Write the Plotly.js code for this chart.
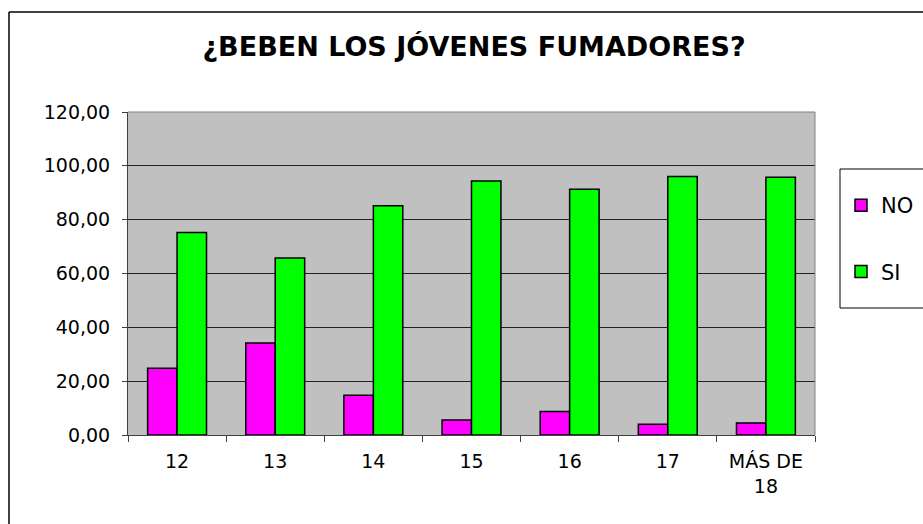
<!DOCTYPE html>
<html>
<head>
<meta charset="utf-8">
<script src="https://cdn.plot.ly/plotly-3.0.1.min.js"></script>
<style>
  body { margin: 0; background: #ffffff; }
  #grafica { width: 923px; height: 524px; }
</style>
</head>
<body>
<div id="grafica"></div>
<script>
// edades (categorias del eje x)
const edades = ["12", "13", "14", "15", "16", "17", "MÁS DE<br>18"];

// porcentajes
const valoresNo = [24.8, 34.2, 14.8, 5.6, 8.7, 4.0, 4.5];
const valoresSi = [75.2, 65.8, 85.2, 94.4, 91.3, 96.0, 95.8];

const fuente = "DejaVu Sans, Liberation Sans, Arial, sans-serif";

// area del grafico en pixeles (para pasar a coordenadas paper)
const izq = 128, der = 815, arriba = 112, abajo = 435;
const px = (x) => (x - izq) / (der - izq);
const py = (y) => (abajo - y) / (abajo - arriba);

let datos = [
  {
    x: edades,
    y: valoresNo,
    name: "NO",
    type: "bar",
    legendgroup: "no",
    marker: { color: "#ff00ff", line: { color: "#000000", width: 1.5 } }
  },
  {
    x: edades,
    y: valoresSi,
    name: "SI",
    type: "bar",
    legendgroup: "si",
    marker: { color: "#00ff00", line: { color: "#000000", width: 1.5 } }
  }
];

let layout = {
  width: 923,
  height: 524,
  margin: { l: izq, r: 923 - der, t: arriba, b: 524 - abajo, autoexpand: false },
  paper_bgcolor: "#ffffff",
  plot_bgcolor: "#c0c0c0",
  separators: ",.",
  font: { family: fuente, color: "#000000", size: 19 },
  title: {
    text: "<b>¿BEBEN LOS JÓVENES FUMADORES?</b>",
    font: { family: fuente, size: 27, color: "#000000" },
    xref: "paper",
    x: px(474),
    xanchor: "center",
    yref: "container",
    y: 1 - 47 / 524,
    yanchor: "middle"
  },
  barmode: "group",
  bargap: 0.4,
  bargroupgap: 0,
  showlegend: true,
  legend: {
    x: px(841),
    xanchor: "left",
    y: py(185),
    yanchor: "top",
    bgcolor: "rgba(0,0,0,0)",
    borderwidth: 0,
    traceorder: "grouped",
    tracegroupgap: 36,
    font: { family: fuente, size: 21, color: "#000000" }
  },
  xaxis: {
    type: "category",
    showgrid: false,
    showline: true,
    linecolor: "#404040",
    linewidth: 1,
    ticks: "outside",
    tickson: "boundaries",
    ticklen: 6,
    tickcolor: "#404040",
    ticklabelstandoff: 9,
    tickfont: { family: fuente, size: 19, color: "#000000" },
    fixedrange: true
  },
  yaxis: {
    range: [0, 120],
    tickvals: [0, 20, 40, 60, 80, 100, 120],
    tickformat: ".2f",
    showgrid: true,
    gridcolor: "#222222",
    gridwidth: 1,
    zeroline: false,
    showline: true,
    linecolor: "#404040",
    linewidth: 1,
    ticks: "outside",
    ticklen: 5,
    tickcolor: "#404040",
    ticklabelstandoff: 8,
    tickfont: { family: fuente, size: 19, color: "#000000" },
    fixedrange: true
  },
  shapes: [
    // borde gris superior y derecho del area de trazado
    { type: "line", xref: "paper", yref: "paper", x0: 0, x1: 1, y0: 1, y1: 1,
      line: { color: "#808080", width: 1 } },
    { type: "line", xref: "paper", yref: "paper", x0: 1, x1: 1, y0: 0, y1: 1,
      line: { color: "#808080", width: 1 } },
    // marco exterior del grafico
    { type: "line", xref: "paper", yref: "paper", x0: px(9), x1: px(9), y0: py(12), y1: py(530),
      line: { color: "#000000", width: 1.5 } },
    { type: "line", xref: "paper", yref: "paper", x0: px(9), x1: px(930), y0: py(12), y1: py(12),
      line: { color: "#000000", width: 1.5 } },
    // caja de la leyenda
    { type: "rect", xref: "paper", yref: "paper", x0: px(840), x1: px(935), y0: py(308), y1: py(169),
      line: { color: "#000000", width: 1 } }
  ]
};

Plotly.newPlot("grafica", datos, layout, { displayModeBar: false, staticPlot: true });
</script>
</body>
</html>
